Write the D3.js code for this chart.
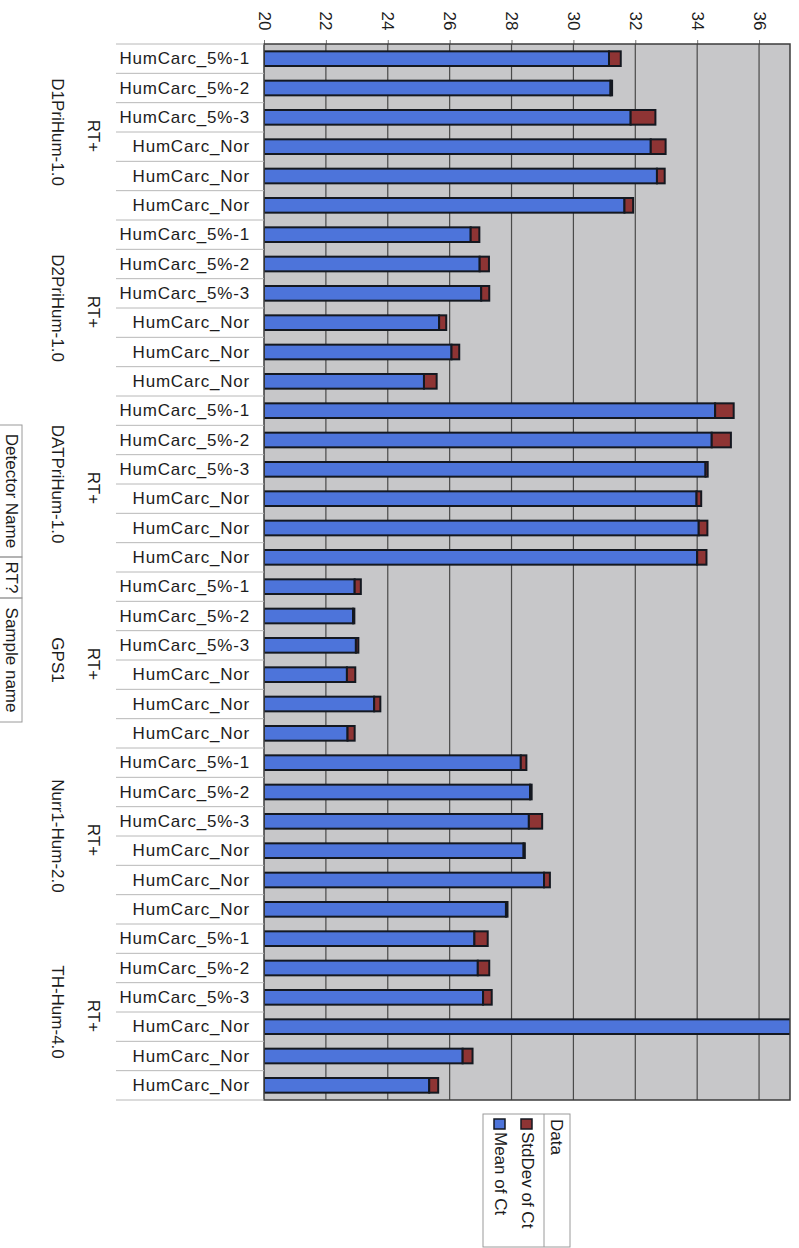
<!DOCTYPE html>
<html><head><meta charset="utf-8">
<script src="https://cdn.jsdelivr.net/npm/d3@7"></script>
<style>
body{margin:0;background:#fff}
svg{display:block}
text{font-family:Arial,"Liberation Sans",sans-serif;fill:#1c1c1c}
</style>
</head><body>
<svg id="c" width="799" height="1248"></svg>
<script>
const detectors = ["D1PriHum-1.0","D2PriHum-1.0","DATPriHum-1.0","GPS1","Nurr1-Hum-2.0","TH-Hum-4.0"];
const rtValues = ["RT+","RT+","RT+","RT+","RT+","RT+"];
const sampleNames = ["HumCarc_5%-1","HumCarc_5%-2","HumCarc_5%-3","HumCarc_Nor","HumCarc_Nor","HumCarc_Nor"];
const meanCt = [
  31.15, 31.20, 31.85, 32.50, 32.70, 31.65,
  26.68, 26.97, 27.02, 25.66, 26.06, 25.17,
  34.58, 34.47, 34.27, 33.98, 34.05, 34.00,
  22.93, 22.88, 22.97, 22.68, 23.56, 22.70,
  28.30, 28.60, 28.56, 28.39, 29.05, 27.82,
  26.80, 26.91, 27.08, 38.50, 26.42, 25.34
];
const sdCt = [
  0.38, 0.05, 0.80, 0.48, 0.25, 0.28,
  0.28, 0.30, 0.26, 0.23, 0.25, 0.41,
  0.60, 0.62, 0.07, 0.15, 0.28, 0.30,
  0.20, 0.04, 0.08, 0.27, 0.20, 0.23,
  0.18, 0.05, 0.43, 0.04, 0.19, 0.05,
  0.43, 0.37, 0.28, 0.30, 0.32, 0.29
];
const xTicks = [20,22,24,26,28,30,32,34,36];
const legendTitle = "Data";
const legendLabels = ["StdDev of Ct","Mean of Ct"];
const fieldButtons = ["Detector Name","RT?","Sample name"];

const colMean = "#4d74da", colSd = "#8e3434", colStroke = "#141820";

const rows = [];
detectors.forEach((d,i)=>sampleNames.forEach((s,j)=>{
  const k=i*6+j; rows.push({id:k, det:i, sample:s, mean:meanCt[k], sd:sdCt[k]});
}));

const P = {left:264, right:790, top:44, bottom:1100};
const x = d3.scaleLinear().domain([20,37]).range([P.left,P.right]);
const y = d3.scaleBand().domain(rows.map(r=>r.id)).range([P.top,P.bottom]).paddingInner(0.5).paddingOuter(0.25);
const bw = y.bandwidth();
const cy = id => y(id)+bw/2;

const svg = d3.select("#c");
svg.append("defs").append("clipPath").attr("id","plotclip")
  .append("rect").attr("x",P.left).attr("y",P.top).attr("width",P.right-P.left).attr("height",P.bottom-P.top);

// plot background
svg.append("rect").attr("x",P.left).attr("y",P.top).attr("width",P.right-P.left).attr("height",P.bottom-P.top)
  .attr("fill","#c7c7c9");

// gridlines
svg.append("g").selectAll("line").data(xTicks.slice(1)).join("line")
  .attr("x1",d=>x(d)).attr("x2",d=>x(d)).attr("y1",P.top).attr("y2",P.bottom)
  .attr("stroke","#4a4a4a").attr("stroke-width",1.2);

// top axis ticks
const ax = svg.append("g").attr("transform",`translate(0,${P.top})`)
  .call(d3.axisTop(x).tickValues(xTicks).tickSize(4).tickFormat(""));
ax.select(".domain").remove();
ax.selectAll("line").attr("stroke","#777");
svg.append("g").selectAll("text").data(xTicks).join("text")
  .attr("transform",d=>`translate(${x(d)},21) rotate(90)`)
  .attr("text-anchor","middle").attr("dominant-baseline","central")
  .style("font-size","17px").text(d=>d);

// bars
const bars = svg.append("g").attr("clip-path","url(#plotclip)");
bars.selectAll("rect.mean").data(rows).join("rect").attr("class","mean")
  .attr("x",x(20)).attr("y",d=>y(d.id)).attr("height",bw)
  .attr("width",d=>x(d.mean)-x(20))
  .attr("fill",colMean).attr("stroke",colStroke).attr("stroke-width",2);
bars.selectAll("rect.sd").data(rows).join("rect").attr("class","sd")
  .attr("x",d=>x(d.mean)).attr("y",d=>y(d.id)).attr("height",bw)
  .attr("width",d=>x(d.mean+d.sd)-x(d.mean))
  .attr("fill",colSd).attr("stroke",colStroke).attr("stroke-width",2);

// plot border
svg.append("rect").attr("x",P.left).attr("y",P.top).attr("width",P.right-P.left).attr("height",P.bottom-P.top)
  .attr("fill","none").attr("stroke","#3c3c3c").attr("stroke-width",1.5);

// sample label separators
const bounds = d3.range(37).map(i=> i===0 ? P.top : (i===36 ? P.bottom : (cy(i-1)+cy(i))/2));
svg.append("g").selectAll("line").data(bounds).join("line")
  .attr("x1",116).attr("x2",P.left).attr("y1",d=>d).attr("y2",d=>d)
  .attr("stroke","#b8b8b8").attr("stroke-width",1);

// sample labels
svg.append("g").selectAll("text").data(rows).join("text")
  .attr("x",250).attr("y",d=>cy(d.id)).attr("text-anchor","end").attr("dominant-baseline","central")
  .style("font-size","17px").style("letter-spacing","0.8px").text(d=>d.sample);

// group labels
const groupCenter = i => (cy(i*6)+cy(i*6+5))/2;
svg.append("g").selectAll("text").data(detectors).join("text")
  .attr("transform",(d,i)=>`translate(57,${groupCenter(i)}) rotate(90)`)
  .attr("text-anchor","middle").attr("dominant-baseline","central")
  .style("font-size","17px").text(d=>d);
svg.append("g").selectAll("text").data(rtValues).join("text")
  .attr("transform",(d,i)=>`translate(93,${groupCenter(i)+4}) rotate(90)`)
  .attr("text-anchor","middle").attr("dominant-baseline","central")
  .style("font-size","17px").text(d=>d);

// field buttons
const fb = [{t:fieldButtons[0],y0:425,y1:557},{t:fieldButtons[1],y0:557,y1:598},{t:fieldButtons[2],y0:598,y1:722}];
const fg = svg.append("g");
fg.selectAll("rect").data(fb).join("rect")
  .attr("x",-1).attr("y",d=>d.y0).attr("width",23).attr("height",d=>d.y1-d.y0)
  .attr("fill","none").attr("stroke","#9a9a9a").attr("stroke-width",1);
fg.selectAll("text").data(fb).join("text")
  .attr("transform",d=>`translate(11,${(d.y0+d.y1)/2}) rotate(90)`)
  .attr("text-anchor","middle").attr("dominant-baseline","central")
  .style("font-size","17px").text(d=>d.t);

// legend
const lg = svg.append("g");
lg.append("rect").attr("x",483).attr("y",1114).attr("width",87).attr("height",133)
  .attr("fill","#fff").attr("stroke","#9a9a9a").attr("stroke-width",1);
lg.append("line").attr("x1",544).attr("x2",544).attr("y1",1114).attr("y2",1247).attr("stroke","#9a9a9a");
lg.append("text").attr("transform","translate(556,1119) rotate(90)")
  .attr("dominant-baseline","central").style("font-size","17px").text(legendTitle);
const legItems = [{t:legendLabels[0],c:colSd,x:527},{t:legendLabels[1],c:colMean,x:500}];
lg.selectAll("rect.sw").data(legItems).join("rect").attr("class","sw")
  .attr("x",d=>d.x-6).attr("y",1119).attr("width",11).attr("height",10)
  .attr("fill",d=>d.c).attr("stroke",colStroke).attr("stroke-width",1.5);
lg.selectAll("text.lt").data(legItems).join("text").attr("class","lt")
  .attr("transform",d=>`translate(${d.x},1132) rotate(90)`)
  .attr("dominant-baseline","central").style("font-size","17px").text(d=>d.t);
</script>
</body></html>
